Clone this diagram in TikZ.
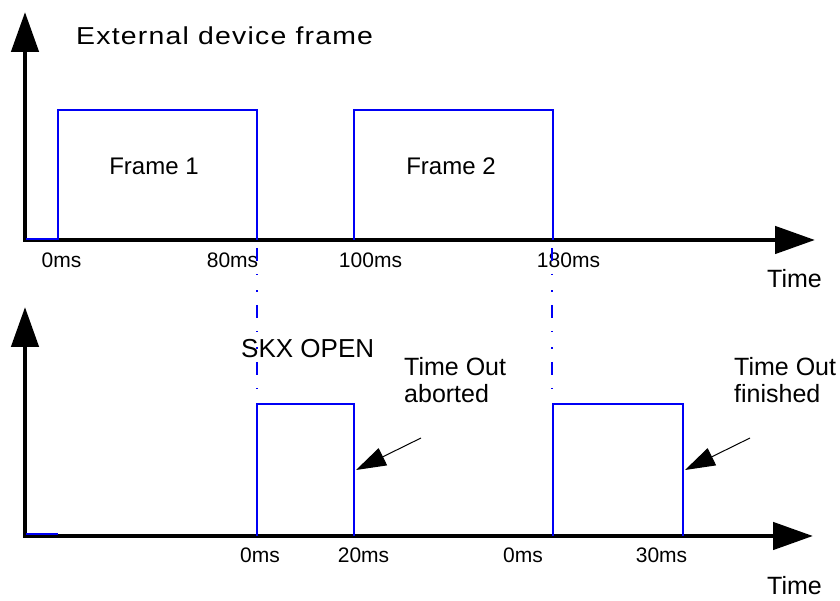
\documentclass[tikz,border=0pt]{standalone}
\usepackage{fontspec}
\setmainfont{Liberation Sans}
\newfontfamily\spacedfont[FakeStretch=1.16,LetterSpace=5]{Liberation Sans}
\usetikzlibrary{arrows.meta}

\begin{document}
\begin{tikzpicture}[x=1pt,y=1pt,
    axisline/.style={line width=4.7pt,
        {Triangle[length=40pt,width=27pt]}-{Triangle[length=40pt,width=27pt]}},
    pulse/.style={sigblue, line width=1.5pt},
    sync/.style={sigblue, line width=1.5pt,
        dash pattern=on 13pt off 13pt on 1.5pt off 15pt on 1.5pt off 13pt},
    ticklbl/.style={anchor=base, inner sep=0pt, font=\fontsize{21}{25}\selectfont},
    annot/.style={anchor=base west, inner sep=0pt, align=left,
        font=\fontsize{25}{27}\selectfont},
    pointer/.style={line width=1pt, -{Triangle[length=30pt,width=19pt]}}]
    % Define colors
    \definecolor{sigblue}{RGB}{0,0,245}

    \useasboundingbox (0,0) rectangle (840,601);

    % Upper axes
    \coordinate (ytop1) at (25,589);
    \coordinate (orig1) at (25,361);
    \coordinate (xend1) at (815,361);
    \draw[axisline] (ytop1) -- (orig1) -- (xend1);

    % External device frames
    \draw[pulse] (26,362) -- (58,362) -- (58,491) -- (257,491) -- (257,361);
    \draw[pulse] (354,361) -- (354,491) -- (553,491) -- (553,361);

    \node[annot, font=\fontsize{24.5}{27}\selectfont] (title) at (76,556) {\spacedfont External device frame};
    \node[annot, anchor=base, font=\fontsize{24}{27}\selectfont] (frame1) at (154,426) {Frame 1};
    \node[annot, anchor=base, font=\fontsize{24}{27}\selectfont] (frame2) at (451,426) {Frame 2};
    \node[annot] (time1) at (767,313) {Time};

    \foreach \x/\t/\nm in {61.5/0ms/a, 232.5/80ms/b, 370.5/100ms/c, 568.5/180ms/d}
        \node[ticklbl] (up\nm) at (\x,333) {\t};

    % Sync lines
    \draw[sync] (257,353) -- (257,201);
    \draw[sync] (552,353) -- (552,203);

    % Lower axes
    \coordinate (ytop2) at (25,294);
    \coordinate (orig2) at (25,65);
    \coordinate (xend2) at (813,65);
    \draw[axisline] (ytop2) -- (orig2) -- (xend2);

    % SKX time out
    \draw[pulse] (26,67) -- (58,67);
    \draw[pulse] (257,65) -- (257,197) -- (354,197) -- (354,65);
    \draw[pulse] (553,65) -- (553,197) -- (683,197) -- (683,65);

    \node[annot, font=\fontsize{26}{27}\selectfont] (skx) at (241,243) {SKX OPEN};
    \node[annot] (aborted) at (404,198) {Time Out\\aborted};
    \node[annot] (finished) at (734,198) {Time Out\\finished};
    \node[annot] (time2) at (767,6) {Time};

    \foreach \x/\t/\nm in {260/0ms/a, 363.5/20ms/b, 523/0ms/c, 661.5/30ms/d}
        \node[ticklbl] (lo\nm) at (\x,38) {\t};

    % Pointers
    \coordinate (abortTail) at (421,163);
    \coordinate (abortTip) at (356,131);
    \coordinate (finishTail) at (750,163);
    \coordinate (finishTip) at (685,131);
    \draw[pointer] (abortTail) -- (abortTip);
    \draw[pointer] (finishTail) -- (finishTip);
\end{tikzpicture}
\end{document}
